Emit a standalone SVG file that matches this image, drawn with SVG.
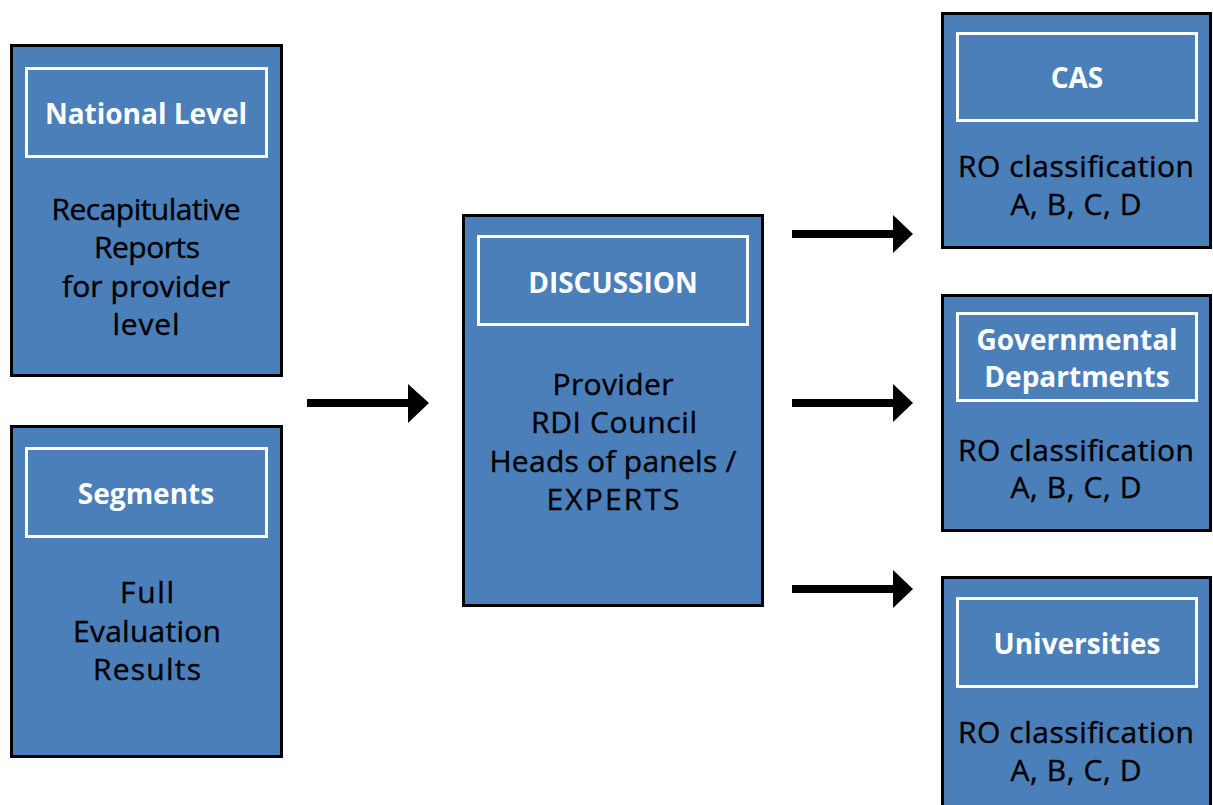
<svg xmlns="http://www.w3.org/2000/svg" width="1213" height="805" viewBox="0 0 1213 805">
<defs>
<style>
.box{fill:#4a7fba;stroke:#000;stroke-width:3}
.hdr{fill:none;stroke:#fff;stroke-width:3}
.t{font-family:"Open Sans","Liberation Sans",sans-serif;font-weight:700;font-size:28px;fill:#fff;text-anchor:middle}
.b{font-family:"Open Sans","Liberation Sans",sans-serif;font-size:30px;fill:#000;stroke:#000;stroke-width:0.4;text-anchor:middle}
.ln{stroke:#000;stroke-width:8;fill:none}
.hd{fill:#000}
</style>
</defs>
<rect width="1213" height="805" fill="#fff"/>
<g id="national">
<rect class="box" x="11.5" y="45.5" width="270" height="330"/>
<rect class="hdr" x="26.5" y="68.5" width="240" height="88"/>
<text class="t" x="146" y="124">National Level</text>
<text class="b" x="146" y="220" textLength="189">Recapitulative</text>
<text class="b" x="147" y="258" textLength="106">Reports</text>
<text class="b" x="146" y="297" textLength="168">for provider</text>
<text class="b" x="146" y="335" textLength="67">level</text>
</g>
<g id="segments">
<rect class="box" x="11.5" y="426.5" width="270" height="330"/>
<rect class="hdr" x="26.5" y="448.5" width="240" height="88"/>
<text class="t" x="146" y="504">Segments</text>
<text class="b" x="147" y="603" textLength="54">Full</text>
<text class="b" x="147" y="642" textLength="148">Evaluation</text>
<text class="b" x="147" y="680" textLength="108">Results</text>
</g>
<g id="discussion">
<rect class="box" x="463.5" y="215.5" width="299" height="390"/>
<rect class="hdr" x="478.5" y="236.5" width="269" height="88"/>
<text class="t" x="613" y="293">DISCUSSION</text>
<text class="b" x="613" y="395" textLength="121">Provider</text>
<text class="b" x="614" y="433" textLength="166">RDI Council</text>
<text class="b" x="613" y="472" textLength="247">Heads of panels /</text>
<text class="b" x="613" y="510" textLength="133">EXPERTS</text>
</g>
<g id="cas">
<rect class="box" x="942.5" y="13.5" width="268" height="234"/>
<rect class="hdr" x="957.5" y="33.5" width="239" height="87"/>
<text class="t" x="1077" y="88">CAS</text>
<text class="b" x="1076" y="177" textLength="236">RO classification</text>
<text class="b" x="1076" y="215" textLength="131">A, B, C, D</text>
</g>
<g id="governmental">
<rect class="box" x="942.5" y="295.5" width="268" height="235"/>
<rect class="hdr" x="957.5" y="313.5" width="239" height="87"/>
<text class="t" x="1077" y="350">Governmental</text>
<text class="t" x="1077" y="387">Departments</text>
<text class="b" x="1076" y="461" textLength="236">RO classification</text>
<text class="b" x="1076" y="498" textLength="131">A, B, C, D</text>
</g>
<g id="universities">
<rect class="box" x="942.5" y="577.5" width="268" height="240"/>
<rect class="hdr" x="957.5" y="598.5" width="239" height="88"/>
<text class="t" x="1077" y="654">Universities</text>
<text class="b" x="1076" y="743" textLength="236">RO classification</text>
<text class="b" x="1076" y="781" textLength="131">A, B, C, D</text>
</g>
<g id="connectors">
<line class="ln" x1="307" y1="403" x2="410" y2="403"/>
<polygon class="hd" points="408,384 429,403 408,423"/>
<line class="ln" x1="792" y1="234" x2="895" y2="234"/>
<polygon class="hd" points="893,215 913,234 893,253"/>
<line class="ln" x1="792" y1="403" x2="895" y2="403"/>
<polygon class="hd" points="893,384 913,403 893,422"/>
<line class="ln" x1="792" y1="589" x2="895" y2="589"/>
<polygon class="hd" points="893,570 913,589 893,608"/>
</g>
</svg>
